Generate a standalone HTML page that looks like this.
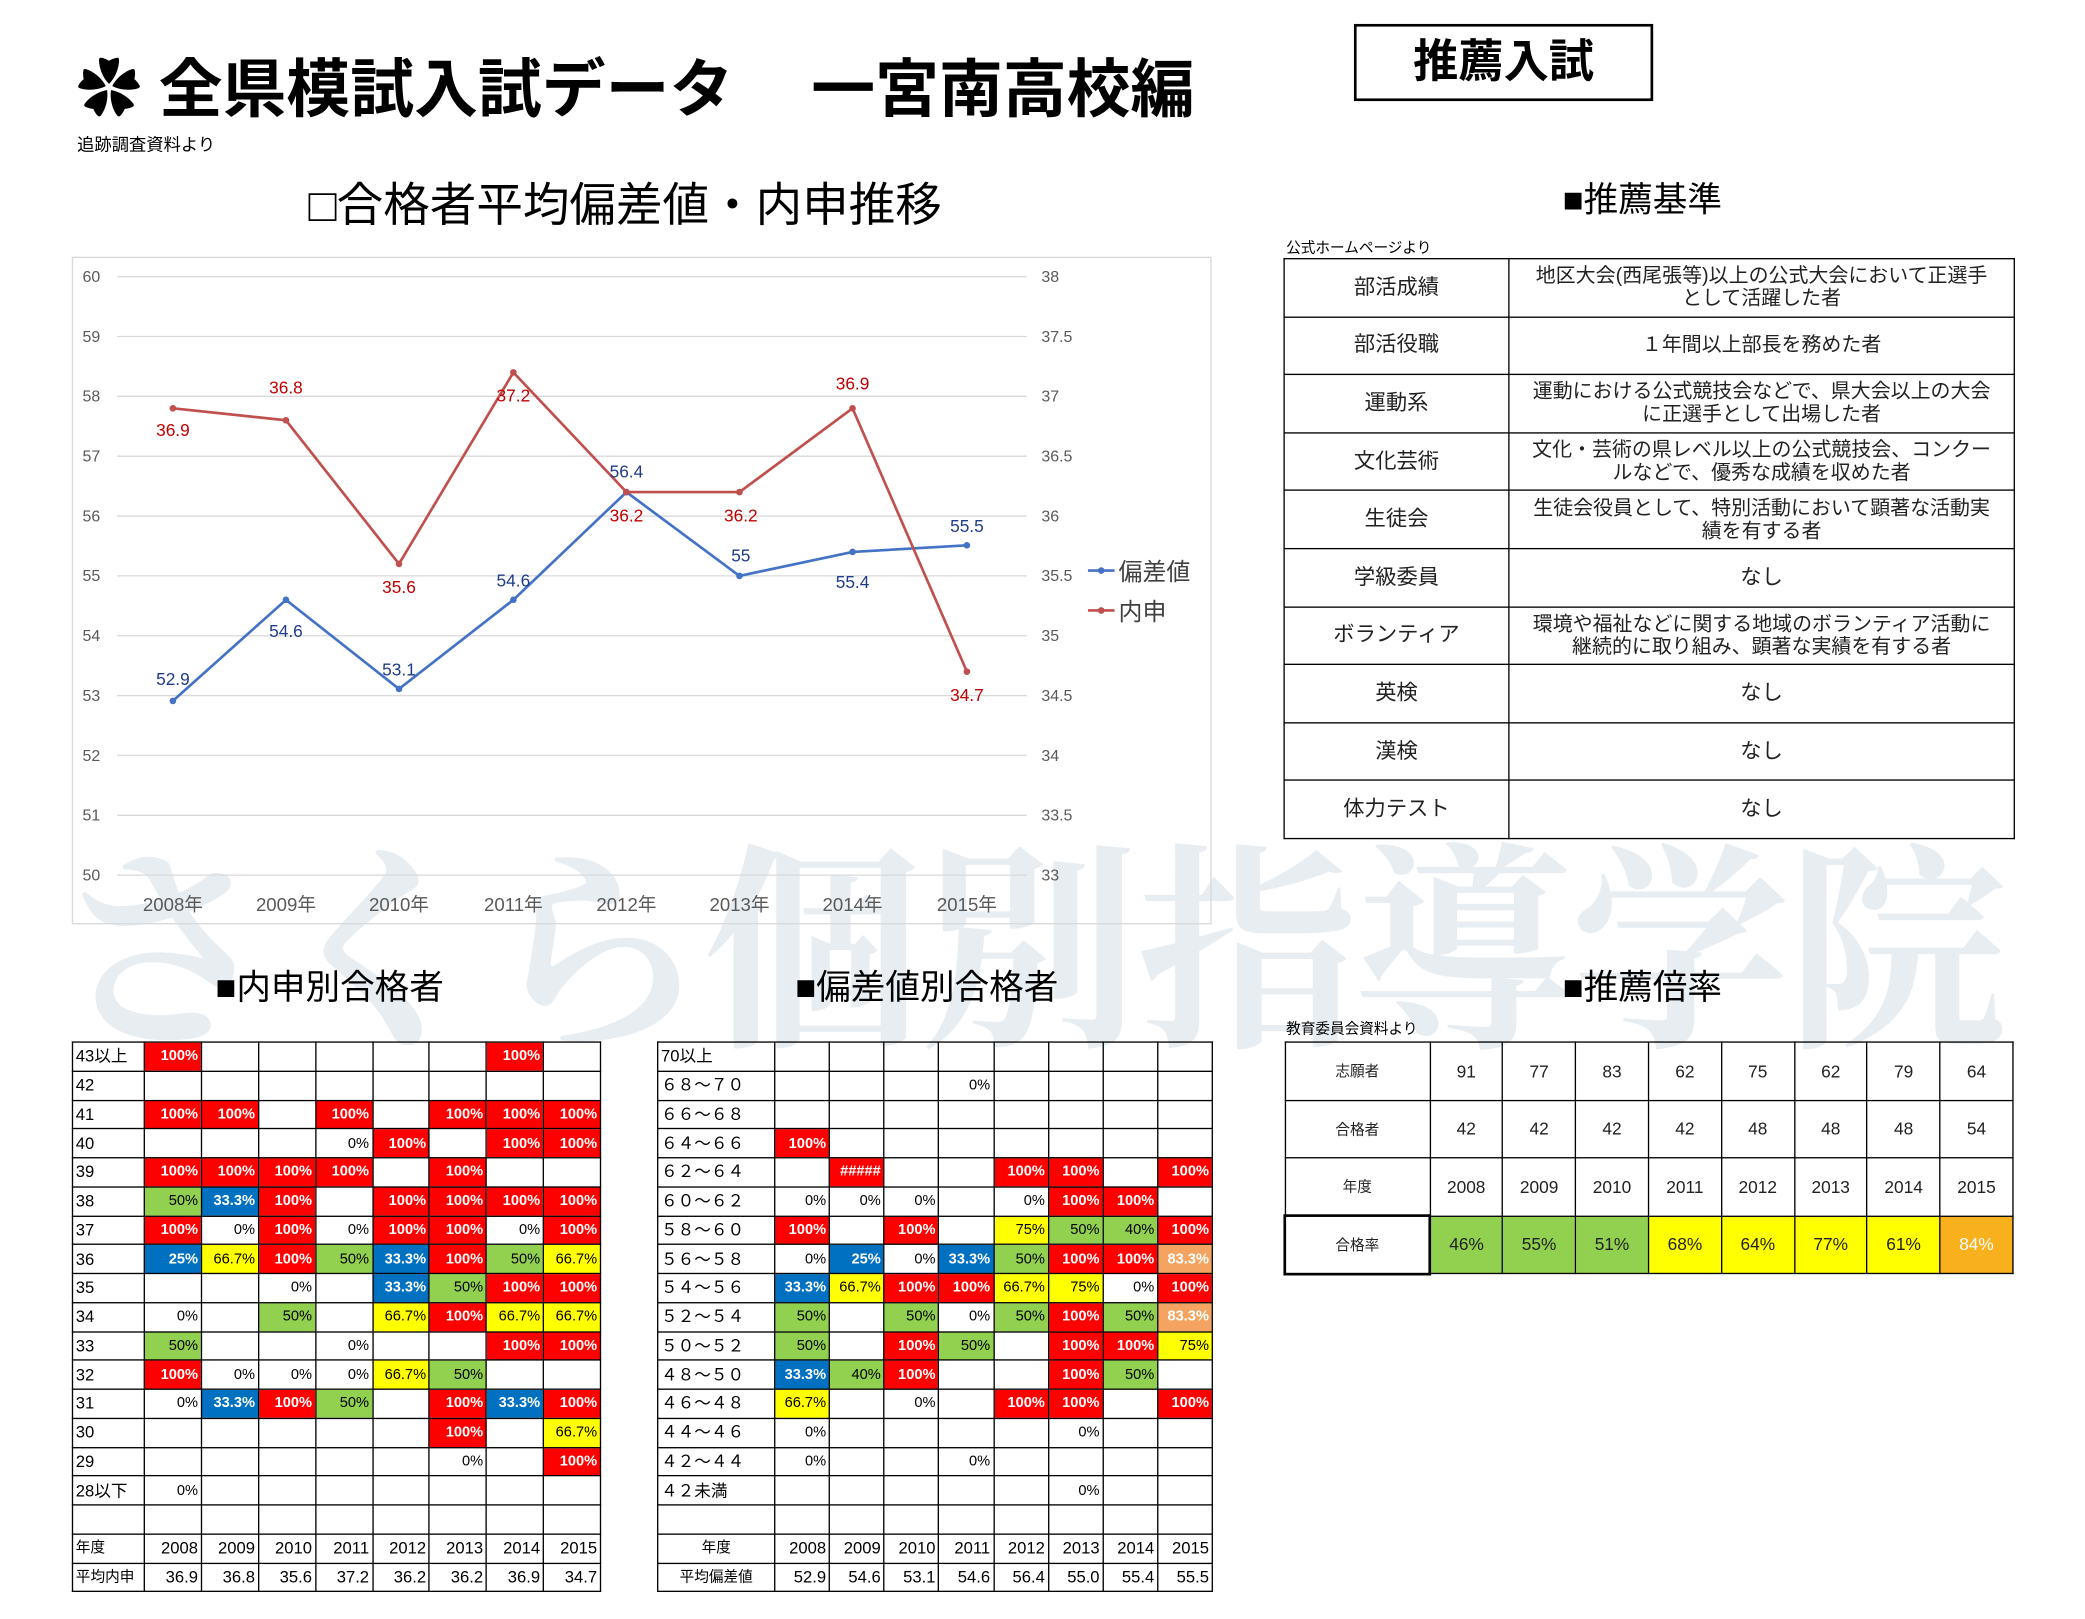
<!DOCTYPE html>
<html><head><meta charset="utf-8"><style>
*{margin:0;padding:0;box-sizing:border-box}
html,body{width:2085px;height:1618px;overflow:hidden;background:#fff}
#w{position:absolute;left:0;top:0;width:1568px;height:1217px;transform-origin:0 0;transform:scale(1.33,1.33);font-family:"Liberation Sans","Noto Sans CJK JP",sans-serif;color:#000}
.a{position:absolute;white-space:nowrap}
table{border-collapse:collapse;position:absolute;table-layout:fixed}
td{border:1px solid #000;padding:0 2px;overflow:hidden;white-space:nowrap}
.t1 td,.t2 td{height:21.75px;font-size:11px;text-align:right;line-height:20px}
.t1 td:first-child,.t2 td:first-child{text-align:left;font-size:12.5px}
.r{background:#f00;color:#fff;font-weight:bold}
.b{background:#0070c0;color:#fff;font-weight:bold}
.g{background:#92d050}
.y{background:#ff0}
.o{background:#f4a460;color:#fff;font-weight:bold}
.ft td{font-size:12.5px!important}
.ft td:first-child{font-size:11px!important}
.std td{height:43.6px;font-size:16px;text-align:center;line-height:17px;color:#222}
.t3 td{height:43.5px;font-size:13px;text-align:center;color:#222}
.t3 td:first-child{font-size:11px}
</style></head><body><div id="w">
<div class="a" style="left:58px;top:28px;font-size:48px;font-weight:bold">✿ 全県模試入試データ</div>
<div class="a" style="left:610px;top:28px;font-size:48px;font-weight:bold">一宮南高校編</div>
<div class="a" style="left:1018px;top:18px;width:225px;height:58px;border:2px solid #000;text-align:center;font-size:34px;font-weight:bold;line-height:54px">推薦入試</div>
<div class="a" style="left:58px;top:98px;font-size:13px">追跡調査資料より</div>
<div class="a" style="left:232px;top:126px;font-size:35px">□合格者平均偏差値・内申推移</div>
<div class="a" style="left:1175px;top:130px;font-size:26px">■推薦基準</div>

<div class="a" style="left:40px;top:585px;font-size:165px;font-family:'Liberation Serif','Noto Serif CJK SC',serif;font-weight:bold;color:rgba(205,214,226,0.45);letter-spacing:-2px">さくら個別指導学院</div>

<svg class="a" style="left:0;top:0" width="1550" height="720">
<rect x="54.5" y="193.5" width="856" height="501" fill="none" stroke="#d9d9d9"/>
<g stroke="#d9d9d9" stroke-width="1">
<line x1="88" x2="772" y1="208" y2="208"/><line x1="88" x2="772" y1="253" y2="253"/><line x1="88" x2="772" y1="298" y2="298"/><line x1="88" x2="772" y1="343" y2="343"/><line x1="88" x2="772" y1="388" y2="388"/><line x1="88" x2="772" y1="433" y2="433"/><line x1="88" x2="772" y1="478" y2="478"/><line x1="88" x2="772" y1="523" y2="523"/><line x1="88" x2="772" y1="568" y2="568"/><line x1="88" x2="772" y1="613" y2="613"/><line x1="88" x2="772" y1="658" y2="658"/>
</g>
<g font-size="12" fill="#595959" font-family="Liberation Sans,sans-serif">
<text x="62" y="212">60</text><text x="62" y="257">59</text><text x="62" y="302">58</text><text x="62" y="347">57</text><text x="62" y="392">56</text><text x="62" y="437">55</text><text x="62" y="482">54</text><text x="62" y="527">53</text><text x="62" y="572">52</text><text x="62" y="617">51</text><text x="62" y="662">50</text>
<text x="783" y="212">38</text><text x="783" y="257">37.5</text><text x="783" y="302">37</text><text x="783" y="347">36.5</text><text x="783" y="392">36</text><text x="783" y="437">35.5</text><text x="783" y="482">35</text><text x="783" y="527">34.5</text><text x="783" y="572">34</text><text x="783" y="617">33.5</text><text x="783" y="662">33</text>
</g>
<g font-size="14" fill="#595959" text-anchor="middle" font-family="Liberation Sans,Noto Sans CJK JP,sans-serif">
<text x="130" y="685">2008年</text><text x="215" y="685">2009年</text><text x="300" y="685">2010年</text><text x="386" y="685">2011年</text><text x="471" y="685">2012年</text><text x="556" y="685">2013年</text><text x="641" y="685">2014年</text><text x="727" y="685">2015年</text>
</g>
<polyline fill="none" stroke="#4472c4" stroke-width="2" points="130,527 215,451 300,518 386,451 471,370 556,433 641,415 727,410"/>
<polyline fill="none" stroke="#c0504d" stroke-width="2" points="130,307 215,316 300,424 386,280 471,370 556,370 641,307 727,505"/>
<g fill="#4472c4"><circle cx="130" cy="527" r="2.5"/><circle cx="215" cy="451" r="2.5"/><circle cx="300" cy="518" r="2.5"/><circle cx="386" cy="451" r="2.5"/><circle cx="471" cy="370" r="2.5"/><circle cx="556" cy="433" r="2.5"/><circle cx="641" cy="415" r="2.5"/><circle cx="727" cy="410" r="2.5"/></g>
<g fill="#c0504d"><circle cx="130" cy="307" r="2.5"/><circle cx="215" cy="316" r="2.5"/><circle cx="300" cy="424" r="2.5"/><circle cx="386" cy="280" r="2.5"/><circle cx="471" cy="370" r="2.5"/><circle cx="556" cy="370" r="2.5"/><circle cx="641" cy="307" r="2.5"/><circle cx="727" cy="505" r="2.5"/></g>
<g font-size="13" fill="#1f3c88" text-anchor="middle" font-family="Liberation Sans,sans-serif">
<text x="130" y="515">52.9</text><text x="215" y="479">54.6</text><text x="300" y="508">53.1</text><text x="386" y="441">54.6</text><text x="471" y="359">56.4</text><text x="557" y="422">55</text><text x="641" y="442">55.4</text><text x="727" y="400">55.5</text>
</g>
<g font-size="13" fill="#c00000" text-anchor="middle" font-family="Liberation Sans,sans-serif">
<text x="130" y="328">36.9</text><text x="215" y="296">36.8</text><text x="300" y="446">35.6</text><text x="386" y="302">37.2</text><text x="471" y="392">36.2</text><text x="557" y="392">36.2</text><text x="641" y="293">36.9</text><text x="727" y="527">34.7</text>
</g>
<line x1="818" x2="838" y1="429" y2="429" stroke="#4472c4" stroke-width="2"/><circle cx="828" cy="429" r="2.5" fill="#4472c4"/>
<line x1="818" x2="838" y1="459" y2="459" stroke="#c0504d" stroke-width="2"/><circle cx="828" cy="459" r="2.5" fill="#c0504d"/>
<text x="841" y="436" font-size="18" fill="#404040" font-family="Liberation Sans,Noto Sans CJK JP,sans-serif">偏差値</text>
<text x="841" y="466" font-size="18" fill="#404040" font-family="Liberation Sans,Noto Sans CJK JP,sans-serif">内申</text>
</svg>

<div class="a" style="left:967px;top:178px;font-size:11px">公式ホームページより</div>
<table class="std" style="left:965px;top:194px;width:549px">
<colgroup><col style="width:169px"><col style="width:380px"></colgroup>
<tr><td>部活成績</td><td style="font-size:15px">地区大会(西尾張等)以上の公式大会において正選手<br>として活躍した者</td></tr>
<tr><td>部活役職</td><td style="font-size:15px">１年間以上部長を務めた者</td></tr>
<tr><td>運動系</td><td style="font-size:15px">運動における公式競技会などで、県大会以上の大会<br>に正選手として出場した者</td></tr>
<tr><td>文化芸術</td><td style="font-size:15px">文化・芸術の県レベル以上の公式競技会、コンクー<br>ルなどで、優秀な成績を収めた者</td></tr>
<tr><td>生徒会</td><td style="font-size:15px">生徒会役員として、特別活動において顕著な活動実<br>績を有する者</td></tr>
<tr><td>学級委員</td><td>なし</td></tr>
<tr><td>ボランティア</td><td style="font-size:15px">環境や福祉などに関する地域のボランティア活動に<br>継続的に取り組み、顕著な実績を有する者</td></tr>
<tr><td>英検</td><td>なし</td></tr>
<tr><td>漢検</td><td>なし</td></tr>
<tr><td>体力テスト</td><td>なし</td></tr>
</table>

<div class="a" style="left:162px;top:722px;font-size:26px">■内申別合格者</div>
<div class="a" style="left:598px;top:722px;font-size:26px">■偏差値別合格者</div>
<div class="a" style="left:1175px;top:722px;font-size:26px">■推薦倍率</div>

<table class="t1" style="left:54px;top:783px;width:398px">
<colgroup><col style="width:54px"><col><col><col><col><col><col><col><col></colgroup>
<tr><td>43以上</td><td class="r">100%</td><td></td><td></td><td></td><td></td><td></td><td class="r">100%</td><td></td></tr>
<tr><td>42</td><td></td><td></td><td></td><td></td><td></td><td></td><td></td><td></td></tr>
<tr><td>41</td><td class="r">100%</td><td class="r">100%</td><td></td><td class="r">100%</td><td></td><td class="r">100%</td><td class="r">100%</td><td class="r">100%</td></tr>
<tr><td>40</td><td></td><td></td><td></td><td>0%</td><td class="r">100%</td><td></td><td class="r">100%</td><td class="r">100%</td></tr>
<tr><td>39</td><td class="r">100%</td><td class="r">100%</td><td class="r">100%</td><td class="r">100%</td><td></td><td class="r">100%</td><td></td><td></td></tr>
<tr><td>38</td><td class="g">50%</td><td class="b">33.3%</td><td class="r">100%</td><td></td><td class="r">100%</td><td class="r">100%</td><td class="r">100%</td><td class="r">100%</td></tr>
<tr><td>37</td><td class="r">100%</td><td>0%</td><td class="r">100%</td><td>0%</td><td class="r">100%</td><td class="r">100%</td><td>0%</td><td class="r">100%</td></tr>
<tr><td>36</td><td class="b">25%</td><td class="y">66.7%</td><td class="r">100%</td><td class="g">50%</td><td class="b">33.3%</td><td class="r">100%</td><td class="g">50%</td><td class="y">66.7%</td></tr>
<tr><td>35</td><td></td><td></td><td>0%</td><td></td><td class="b">33.3%</td><td class="g">50%</td><td class="r">100%</td><td class="r">100%</td></tr>
<tr><td>34</td><td>0%</td><td></td><td class="g">50%</td><td></td><td class="y">66.7%</td><td class="r">100%</td><td class="y">66.7%</td><td class="y">66.7%</td></tr>
<tr><td>33</td><td class="g">50%</td><td></td><td></td><td>0%</td><td></td><td></td><td class="r">100%</td><td class="r">100%</td></tr>
<tr><td>32</td><td class="r">100%</td><td>0%</td><td>0%</td><td>0%</td><td class="y">66.7%</td><td class="g">50%</td><td></td><td></td></tr>
<tr><td>31</td><td>0%</td><td class="b">33.3%</td><td class="r">100%</td><td class="g">50%</td><td></td><td class="r">100%</td><td class="b">33.3%</td><td class="r">100%</td></tr>
<tr><td>30</td><td></td><td></td><td></td><td></td><td></td><td class="r">100%</td><td></td><td class="y">66.7%</td></tr>
<tr><td>29</td><td></td><td></td><td></td><td></td><td></td><td>0%</td><td></td><td class="r">100%</td></tr>
<tr><td>28以下</td><td>0%</td><td></td><td></td><td></td><td></td><td></td><td></td><td></td></tr>
<tr><td></td><td></td><td></td><td></td><td></td><td></td><td></td><td></td><td></td></tr>
<tr class="ft"><td>年度</td><td>2008</td><td>2009</td><td>2010</td><td>2011</td><td>2012</td><td>2013</td><td>2014</td><td>2015</td></tr>
<tr class="ft"><td>平均内申</td><td>36.9</td><td>36.8</td><td>35.6</td><td>37.2</td><td>36.2</td><td>36.2</td><td>36.9</td><td>34.7</td></tr>
</table>

<table class="t2" style="left:494px;top:783px;width:418px">
<colgroup><col style="width:88px"><col><col><col><col><col><col><col><col></colgroup>
<tr><td>70以上</td><td></td><td></td><td></td><td></td><td></td><td></td><td></td><td></td></tr>
<tr><td>６８～７０</td><td></td><td></td><td></td><td>0%</td><td></td><td></td><td></td><td></td></tr>
<tr><td>６６～６８</td><td></td><td></td><td></td><td></td><td></td><td></td><td></td><td></td></tr>
<tr><td>６４～６６</td><td class="r">100%</td><td></td><td></td><td></td><td></td><td></td><td></td><td></td></tr>
<tr><td>６２～６４</td><td></td><td class="r">#####</td><td></td><td></td><td class="r">100%</td><td class="r">100%</td><td></td><td class="r">100%</td></tr>
<tr><td>６０～６２</td><td>0%</td><td>0%</td><td>0%</td><td></td><td>0%</td><td class="r">100%</td><td class="r">100%</td><td></td></tr>
<tr><td>５８～６０</td><td class="r">100%</td><td></td><td class="r">100%</td><td></td><td class="y">75%</td><td class="g">50%</td><td class="g">40%</td><td class="r">100%</td></tr>
<tr><td>５６～５８</td><td>0%</td><td class="b">25%</td><td>0%</td><td class="b">33.3%</td><td class="g">50%</td><td class="r">100%</td><td class="r">100%</td><td class="o">83.3%</td></tr>
<tr><td>５４～５６</td><td class="b">33.3%</td><td class="y">66.7%</td><td class="r">100%</td><td class="r">100%</td><td class="y">66.7%</td><td class="y">75%</td><td>0%</td><td class="r">100%</td></tr>
<tr><td>５２～５４</td><td class="g">50%</td><td></td><td class="g">50%</td><td>0%</td><td class="g">50%</td><td class="r">100%</td><td class="g">50%</td><td class="o">83.3%</td></tr>
<tr><td>５０～５２</td><td class="g">50%</td><td></td><td class="r">100%</td><td class="g">50%</td><td></td><td class="r">100%</td><td class="r">100%</td><td class="y">75%</td></tr>
<tr><td>４８～５０</td><td class="b">33.3%</td><td class="g">40%</td><td class="r">100%</td><td></td><td></td><td class="r">100%</td><td class="g">50%</td><td></td></tr>
<tr><td>４６～４８</td><td class="y">66.7%</td><td></td><td>0%</td><td></td><td class="r">100%</td><td class="r">100%</td><td></td><td class="r">100%</td></tr>
<tr><td>４４～４６</td><td>0%</td><td></td><td></td><td></td><td></td><td>0%</td><td></td><td></td></tr>
<tr><td>４２～４４</td><td>0%</td><td></td><td></td><td>0%</td><td></td><td></td><td></td><td></td></tr>
<tr><td>４２未満</td><td></td><td></td><td></td><td></td><td></td><td>0%</td><td></td><td></td></tr>
<tr><td></td><td></td><td></td><td></td><td></td><td></td><td></td><td></td><td></td></tr>
<tr class="ft"><td style="text-align:center">年度</td><td>2008</td><td>2009</td><td>2010</td><td>2011</td><td>2012</td><td>2013</td><td>2014</td><td>2015</td></tr>
<tr class="ft"><td style="text-align:center">平均偏差値</td><td>52.9</td><td>54.6</td><td>53.1</td><td>54.6</td><td>56.4</td><td>55.0</td><td>55.4</td><td>55.5</td></tr>
</table>

<div class="a" style="left:967px;top:765px;font-size:11px">教育委員会資料より</div>
<table class="t3" style="left:965px;top:783px;width:549px">
<colgroup><col style="width:109px"><col><col><col><col><col><col><col><col></colgroup>
<tr><td>志願者</td><td>91</td><td>77</td><td>83</td><td>62</td><td>75</td><td>62</td><td>79</td><td>64</td></tr>
<tr><td>合格者</td><td>42</td><td>42</td><td>42</td><td>42</td><td>48</td><td>48</td><td>48</td><td>54</td></tr>
<tr><td>年度</td><td>2008</td><td>2009</td><td>2010</td><td>2011</td><td>2012</td><td>2013</td><td>2014</td><td>2015</td></tr>
<tr><td style="border:2px solid #000">合格率</td><td class="g">46%</td><td class="g">55%</td><td class="g">51%</td><td class="y">68%</td><td class="y">64%</td><td class="y">77%</td><td class="y">61%</td><td style="background:#f8b01c;color:#fff">84%</td></tr>
</table>
</div></body></html>
